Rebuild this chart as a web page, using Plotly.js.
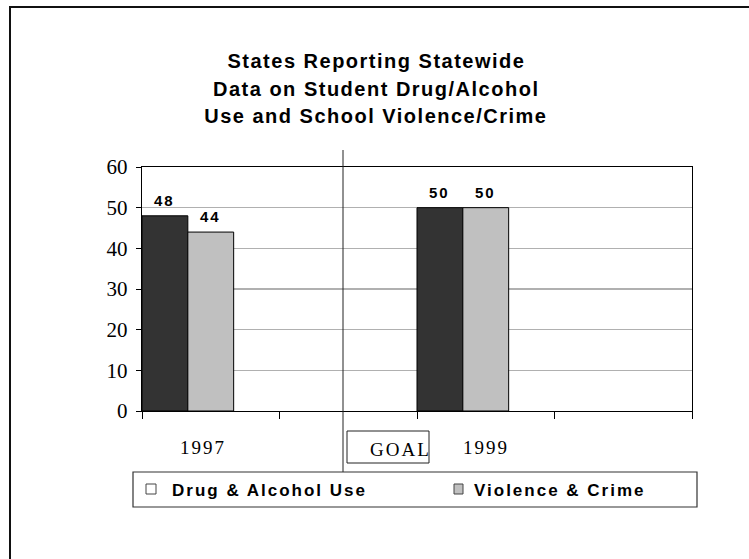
<!DOCTYPE html>
<html>
<head>
<meta charset="utf-8">
<script src="https://cdn.plot.ly/plotly-3.0.1.min.js"></script>
<style>
html,body{margin:0;padding:0;background:#fff;}
#chart{width:749px;height:559px;}
</style>
</head>
<body>
<div id="chart"></div>
<script>
// ---- data ----
var categories = ["1997", "", "1999", ""];
var categoryPos = [0, 1, 2, 3];
var seriesNames = ["Drug & Alcohol Use", "Violence & Crime"];
var drugValues = [48, null, 50, null];
var violenceValues = [44, null, 50, null];
var yTicks = [0, 10, 20, 30, 40, 50, 60];
var titleLines = ["States Reporting Statewide", "Data on Student Drug/Alcohol", "Use and School Violence/Crime"];
var goalLabel = "GOAL";

// ---- style ----
var darkColor = "#333333";
var lightColor = "#c0c0c0";
var barW = 1 / 3;
var SANS = "Liberation Sans, Arial, sans-serif";
var SERIF = "Liberation Serif, Times New Roman, serif";

var seriesValues = [drugValues, violenceValues];
var seriesColors = [darkColor, lightColor];

var traces = seriesValues.map(function (vals, s) {
  return {
    type: "bar", name: seriesNames[s], x: categoryPos, y: vals,
    width: barW, offset: -0.5 + s * barW,
    marker: { color: seriesColors[s], line: { color: "#000", width: 1 } },
    showlegend: false, hoverinfo: "skip"
  };
});

var L = 142, R = 692, T = 167, B = 411;
function px(x) { return (x - L) / (R - L); }
function py(y) { return (B - y) / (B - T); }

var annotations = [];
var spacing = [];
function addAnn(a, sp) { annotations.push(a); spacing.push(sp || null); }

// value labels above bars
seriesValues.forEach(function (vals, s) {
  vals.forEach(function (v, i) {
    if (v == null) return;
    addAnn({
      text: "<b>" + v + "</b>", xref: "x", yref: "y",
      x: categoryPos[i] - 0.5 + (s + 0.5) * barW, y: v,
      xanchor: "center", yanchor: "bottom", yshift: 5, showarrow: false,
      font: { family: SANS, size: 15, color: "#000" }
    }, "2px");
  });
});

var titleY = [61, 89, 116];
titleLines.forEach(function (t, i) {
  addAnn({
    text: "<b>" + t + "</b>", xref: "paper", yref: "paper",
    x: px(376), y: py(titleY[i]), xanchor: "center", yanchor: "middle", showarrow: false,
    font: { family: SANS, size: 20, color: "#000" }
  }, "1.5px");
});
categories.forEach(function (c, i) {
  if (c) {
    addAnn({
      text: c, xref: "x", yref: "paper", x: categoryPos[i], y: py(447),
      xanchor: "center", yanchor: "middle", showarrow: false, xshift: i === 0 ? -8 : 0,
      font: { family: SERIF, size: 19, color: "#000" }
    }, "2px");
  }
});
addAnn({
  text: goalLabel, xref: "paper", yref: "paper", x: px(431), y: py(449),
  xanchor: "right", yanchor: "middle", showarrow: false,
  font: { family: SERIF, size: 19, color: "#000" }
}, "2px");
var legTextX = [170, 472];
seriesNames.forEach(function (n, i) {
  addAnn({
    text: "<b>" + n + "</b>", xref: "paper", yref: "paper", x: px(legTextX[i]), y: py(490),
    xanchor: "left", yanchor: "middle", showarrow: false,
    font: { family: SANS, size: 17, color: "#000" }
  }, "2px");
});

var shapes = [
  { type: "rect", xref: "paper", yref: "paper", x0: px(10), x1: px(800), y0: py(620), y1: py(7),
    line: { color: "#111", width: 2 }, fillcolor: "rgba(0,0,0,0)", layer: "below" },
  { type: "line", xref: "paper", yref: "paper", x0: px(343), x1: px(343), y0: py(150), y1: py(472),
    line: { color: "#222", width: 1 } },
  { type: "rect", xref: "paper", yref: "paper", x0: px(347), x1: px(429), y0: py(463), y1: py(431),
    line: { color: "#222", width: 1 }, fillcolor: "rgba(0,0,0,0)" },
  { type: "rect", xref: "paper", yref: "paper", x0: px(133), x1: px(697), y0: py(507), y1: py(472),
    line: { color: "#333", width: 1.2 }, fillcolor: "rgba(0,0,0,0)" },
  { type: "rect", xref: "paper", yref: "paper", x0: px(146), x1: px(156), y0: py(494), y1: py(484),
    line: { color: "#444", width: 1 }, fillcolor: "#ffffff" },
  { type: "rect", xref: "paper", yref: "paper", x0: px(454), x1: px(463), y0: py(494), y1: py(484),
    line: { color: "#444", width: 1 }, fillcolor: lightColor }
];

var layout = {
  width: 749, height: 559,
  margin: { l: L, r: 749 - R, t: T, b: 559 - B, pad: 0 },
  paper_bgcolor: "#fff", plot_bgcolor: "#fff",
  barmode: "overlay",
  showlegend: false,
  xaxis: {
    type: "linear", range: [-0.5, 3.5], tickmode: "linear", tick0: -0.5, dtick: 1,
    showticklabels: false, ticks: "outside", ticklen: 7, tickcolor: "#000", tickwidth: 1,
    showline: true, linecolor: "#000", linewidth: 1.2, mirror: true, showgrid: false, zeroline: false,
    fixedrange: true
  },
  yaxis: {
    range: [0, 60], tickmode: "array", tickvals: yTicks, ticktext: yTicks.map(String),
    ticks: "outside", ticklen: 5, tickcolor: "#000", tickwidth: 1, ticklabelstandoff: 4,
    tickfont: { family: SERIF, size: 21, color: "#000" },
    showline: true, linecolor: "#000", linewidth: 1.2, mirror: true,
    showgrid: true, gridcolor: "#b0b0b0", gridwidth: 1.5, zeroline: false, fixedrange: true
  },
  annotations: annotations,
  shapes: shapes
};

Plotly.newPlot("chart", traces, layout, { staticPlot: true, displayModeBar: false }).then(function (gd) {
  var groups = gd.querySelectorAll("g.annotation");
  groups.forEach(function (g) {
    var idx = +g.getAttribute("data-index");
    var t = g.querySelector("text.annotation-text");
    if (!t || !spacing[idx]) return;
    var bb = t.getBBox();
    var xa = annotations[idx].xanchor;
    t.style.letterSpacing = spacing[idx];
    if (xa === "left") {
      t.setAttribute("text-anchor", "start");
      t.setAttribute("x", bb.x);
    } else if (xa === "right") {
      t.setAttribute("text-anchor", "end");
      t.setAttribute("x", bb.x + bb.width + parseFloat(spacing[idx]));
    }
  });
});
</script>
</body>
</html>
